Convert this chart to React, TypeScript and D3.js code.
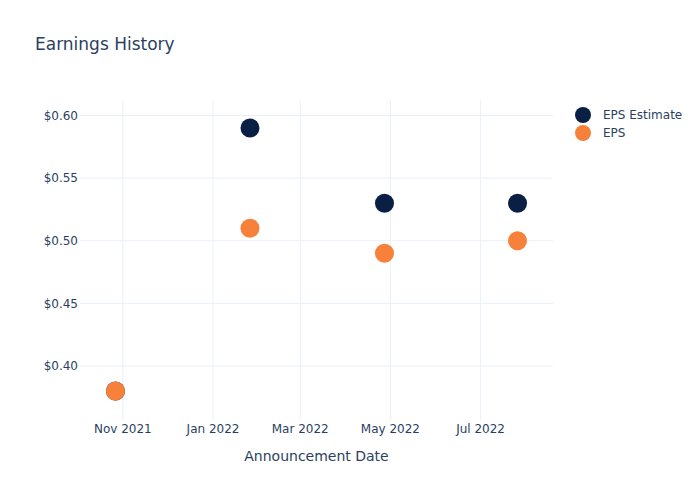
import React from "react";
import * as d3 from "d3";

const dates = ["2021-10-27", "2022-01-26", "2022-04-27", "2022-07-26"];
const epsEstimate = [0.38, 0.59, 0.53, 0.53];
const eps = [0.38, 0.51, 0.49, 0.5];
const yTicks = [0.4, 0.45, 0.5, 0.55, 0.6];
const seriesNames = ["EPS Estimate", "EPS"];
const seriesColors = ["#0a1f44", "#f7813a"];

const W = 700;
const H = 500;
const plot = { left: 80, right: 553, top: 100, bottom: 420 };
const font = "'DejaVu Sans', Verdana, sans-serif";
const textColor = "#2a3f5f";
const gridColor = "#ebf0f8";

export default function App() {
  const parse = d3.utcParse("%Y-%m-%d");
  const x = d3
    .scaleUtc()
    .domain([parse("2021-10-03")!, parse("2022-08-19")!])
    .range([plot.left, plot.right]);
  const y = d3.scaleLinear().domain([0.3569, 0.6124]).range([plot.bottom, plot.top]);
  const xTicks = x.ticks(d3.utcMonth.every(2)!);
  const fmtX = d3.utcFormat("%b %Y");
  const series = [epsEstimate, eps];

  return (
    <svg
      width={W}
      height={H}
      style={{ position: "absolute", left: 0, top: 0, background: "#fff" }}
      fontFamily={font}
    >
      <rect x={0} y={0} width={W} height={H} fill="#fff" />
      {yTicks.map((t) => (
        <line
          key={"gy" + t}
          x1={plot.left}
          x2={plot.right}
          y1={y(t)}
          y2={y(t)}
          stroke={gridColor}
          strokeWidth={1}
        />
      ))}
      {xTicks.map((t) => (
        <line
          key={"gx" + t.getTime()}
          x1={x(t)}
          x2={x(t)}
          y1={plot.top}
          y2={plot.bottom}
          stroke={gridColor}
          strokeWidth={1}
        />
      ))}
      {yTicks.map((t) => (
        <text
          key={"ty" + t}
          x={plot.left - 2}
          y={y(t)}
          dy="0.35em"
          textAnchor="end"
          fontSize={12}
          fill={textColor}
        >
          {"$" + t.toFixed(2)}
        </text>
      ))}
      {xTicks.map((t) => (
        <text
          key={"tx" + t.getTime()}
          x={x(t)}
          y={433}
          textAnchor="middle"
          fontSize={12}
          fill={textColor}
        >
          {fmtX(t)}
        </text>
      ))}
      <text x={(plot.left + plot.right) / 2} y={461} textAnchor="middle" fontSize={14} fill={textColor}>
        Announcement Date
      </text>
      <text x={35} y={50} fontSize={17} fill={textColor}>
        Earnings History
      </text>
      {series.map((vals, si) =>
        vals.map((v, i) => (
          <circle
            key={"p" + si + "-" + i}
            cx={x(parse(dates[i])!)}
            cy={y(v)}
            r={9.5}
            fill={seriesColors[si]}
          />
        ))
      )}
      {seriesNames.map((n, i) => (
        <g key={"lg" + n} transform={`translate(583, ${115 + i * 18})`}>
          <circle cx={0} cy={0} r={8} fill={seriesColors[i]} />
          <text x={20} y={0} dy="0.35em" fontSize={12} fill={textColor}>
            {n}
          </text>
        </g>
      ))}
    </svg>
  );
}
